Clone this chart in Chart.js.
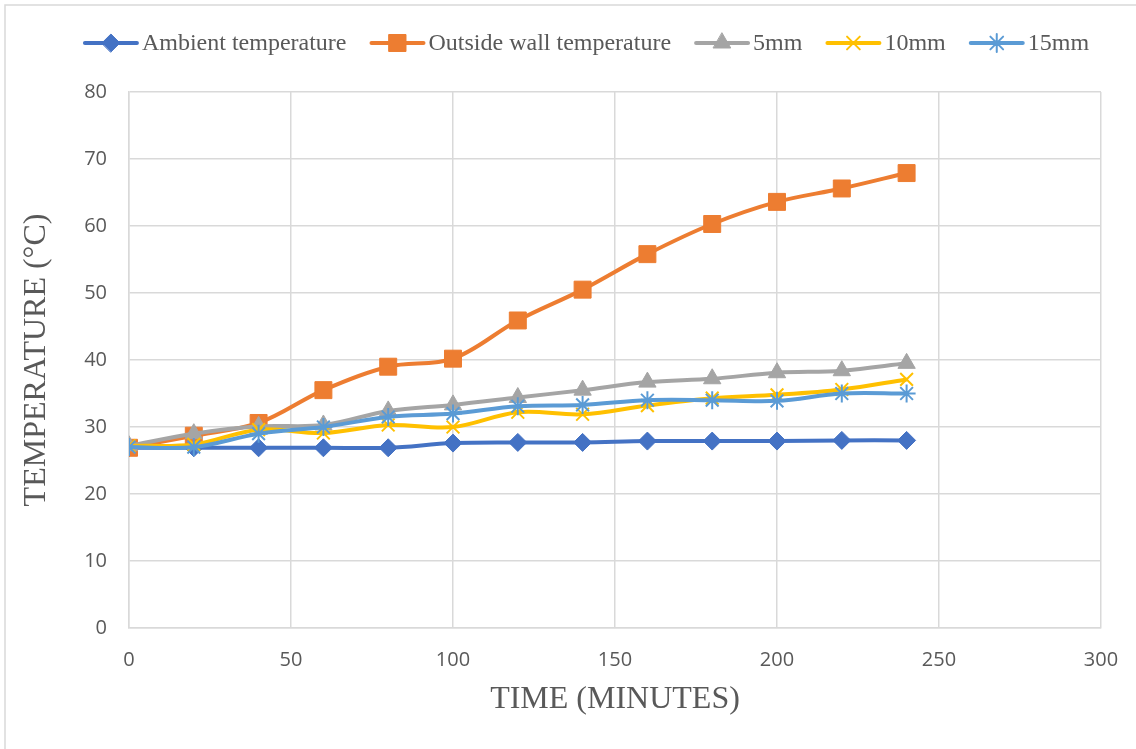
<!DOCTYPE html>
<html>
<head>
<meta charset="utf-8">
<title>Temperature vs time</title>
<script src="https://cdn.jsdelivr.net/npm/chart.js@4/dist/chart.umd.min.js"></script>
<style>
  html, body { margin: 0; padding: 0; background: #fff; }
  #wrap { width: 1136px; height: 749px; position: relative; }
</style>
</head>
<body>
<div id="wrap"><canvas id="chart"></canvas></div>
<script>
const minutes = [0, 20, 40, 60, 80, 100, 120, 140, 160, 180, 200, 220, 240];
const ambient = [26.9, 26.9, 26.9, 26.9, 26.9, 27.6, 27.7, 27.7, 27.9, 27.9, 27.9, 28.0, 28.0];
const outsideWall = [26.9, 28.7, 30.6, 35.5, 39.0, 40.2, 45.9, 50.5, 55.8, 60.3, 63.6, 65.6, 67.9];
const mm5 = [27.2, 29.0, 30.1, 30.3, 32.4, 33.3, 34.4, 35.5, 36.7, 37.2, 38.1, 38.4, 39.5];
const mm10 = [27.2, 27.4, 29.6, 29.1, 30.3, 30.0, 32.2, 31.9, 33.2, 34.3, 34.8, 35.6, 37.1];
const mm15 = [27.0, 27.0, 29.0, 30.0, 31.5, 32.0, 33.1, 33.3, 34.0, 34.0, 33.9, 35.0, 35.0];

const xTicks = [0, 50, 100, 150, 200, 250, 300];
const yTicks = [0, 10, 20, 30, 40, 50, 60, 70, 80];

const TEXT = '#595959';
const GRID = '#d9d9d9';

function pts(values) {
  return minutes.map((m, i) => ({ x: m, y: values[i] }));
}

function series(label, values, color, style, radius, order) {
  return {
    label,
    data: pts(values),
    borderColor: color,
    backgroundColor: color,
    borderWidth: 4,
    tension: 0.35,
    pointStyle: style,
    pointRadius: radius,
    pointHoverRadius: radius,
    pointBackgroundColor: color,
    pointBorderColor: color,
    pointBorderWidth: (style === 'crossRot' || style === 'star') ? 2 : 1,
    order
  };
}

// legend drawn as line + marker like an office chart
const lineLegend = {
  id: 'lineLegend',
  afterDraw(chart) {
    const ctx = chart.ctx;
    const y = 43;
    const lineLen = 56;
    const gap = 23;
    ctx.save();
    ctx.font = '24px "Liberation Serif", "Times New Roman", serif';
    const items = chart.data.datasets.map(ds => ({ ds, w: lineLen + 3 + ctx.measureText(ds.label).width }));
    const total = items.reduce((s, it) => s + it.w, 0) + gap * (items.length - 1);
    let x = 586 - total / 2;
    items.forEach(({ ds, w }) => {
      ctx.strokeStyle = ds.borderColor;
      ctx.fillStyle = ds.borderColor;
      ctx.lineWidth = 4;
      ctx.lineCap = 'round';
      ctx.beginPath();
      ctx.moveTo(x + 2, y);
      ctx.lineTo(x + lineLen - 2, y);
      ctx.stroke();
      ctx.lineWidth = ds.pointBorderWidth;
      Chart.helpers.drawPoint(ctx, {
        pointStyle: ds.pointStyle,
        radius: ds.pointRadius,
        borderWidth: ds.pointBorderWidth,
        rotation: 0
      }, x + lineLen / 2, y);
      ctx.fillStyle = TEXT;
      ctx.textBaseline = 'middle';
      ctx.textAlign = 'left';
      ctx.fillText(ds.label, x + lineLen + 3, y + 1);
      x += w + gap;
    });
    ctx.restore();
  }
};

// white background and thin outer frame
const frame = {
  id: 'frame',
  beforeDraw(chart) {
    const ctx = chart.ctx;
    ctx.save();
    ctx.fillStyle = '#fff';
    ctx.fillRect(0, 0, chart.width, chart.height);
    ctx.strokeStyle = GRID;
    ctx.lineWidth = 1.5;
    ctx.strokeRect(5, 5, chart.width + 10, chart.height + 10);
    ctx.restore();
  }
};

new Chart(document.getElementById('chart'), {
  type: 'line',
  data: {
    datasets: [
      series('Ambient temperature', ambient, '#4472C4', 'rectRot', 9, 4),
      series('Outside wall temperature', outsideWall, '#ED7D31', 'rect', 12, 3),
      series('5mm', mm5, '#A5A5A5', 'triangle', 10, 2),
      series('10mm', mm10, '#FFC000', 'crossRot', 9, 1),
      series('15mm', mm15, '#5B9BD5', 'star', 9, 0)
    ]
  },
  options: {
    responsive: true,
    maintainAspectRatio: false,
    animation: false,
    layout: { padding: { top: 92, right: 35, bottom: 0, left: 0 } },
    plugins: {
      legend: { display: false },
      tooltip: { enabled: false }
    },
    scales: {
      x: {
        type: 'linear',
        min: xTicks[0],
        max: xTicks[xTicks.length - 1],
        afterBuildTicks: s => { s.ticks = xTicks.map(v => ({ value: v })); },
        afterFit: s => { s.height = 121; s.paddingLeft = 0; s.paddingRight = 0; },
        grid: { color: GRID, lineWidth: 1.5, drawTicks: false },
        border: { color: GRID, width: 1.5 },
        ticks: { color: TEXT, padding: 20, font: { family: '"Open Sans", sans-serif', size: 20 } },
        title: {
          display: true,
          text: 'TIME (MINUTES)',
          color: TEXT,
          font: { family: '"Liberation Serif", "Times New Roman", serif', size: 32 },
          padding: { top: 0, bottom: 30 }
        }
      },
      y: {
        min: yTicks[0],
        max: yTicks[yTicks.length - 1],
        afterBuildTicks: s => { s.ticks = yTicks.map(v => ({ value: v })); },
        afterFit: s => { s.width = 129; },
        grid: { color: GRID, lineWidth: 1.5, drawTicks: false },
        border: { color: GRID, width: 1.5 },
        ticks: { color: TEXT, padding: 22, font: { family: '"Open Sans", sans-serif', size: 20 } },
        title: {
          display: true,
          text: 'TEMPERATURE (°C)',
          color: TEXT,
          font: { family: '"Liberation Serif", "Times New Roman", serif', size: 32 },
          padding: { top: 17, bottom: 0 }
        }
      }
    }
  },
  plugins: [frame, lineLegend]
});
</script>
</body>
</html>
